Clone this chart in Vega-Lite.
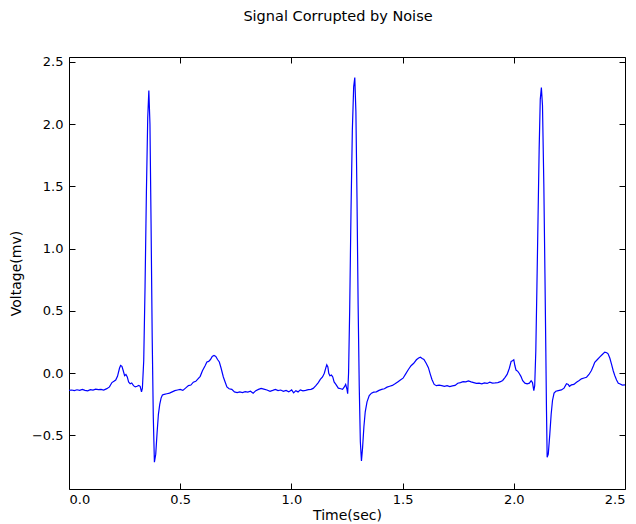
{
  "$schema": "https://vega.github.io/schema/vega-lite/v6.json",
  "autosize": {"type": "none"},
  "padding": {"left": 69, "top": 57, "right": 11, "bottom": 35},
  "width": 556,
  "height": 432,
  "background": "white",
  "title": {"text": "Signal Corrupted by Noise", "font": "DejaVu Sans", "fontSize": 14.5, "fontWeight": "normal", "color": "black", "offset": 31, "dx": -9},
  "config": {
    "view": {"stroke": "black", "strokeWidth": 1},
    "axis": {"labelFont": "DejaVu Sans", "titleFont": "DejaVu Sans", "labelFontSize": 13, "titleFontSize": 14, "titleFontWeight": "normal", "labelColor": "black", "titleColor": "black", "tickColor": "black", "domain": false, "grid": false, "tickSize": -6, "tickWidth": 1}
  },
  "data": {"values": [
    {"t":0.000,"v":-0.138},{"t":0.012,"v":-0.135},{"t":0.024,"v":-0.140},{"t":0.036,"v":-0.133},{"t":0.048,"v":-0.137},{"t":0.060,"v":-0.130},{"t":0.072,"v":-0.138},{"t":0.084,"v":-0.142},{"t":0.096,"v":-0.132},{"t":0.108,"v":-0.136},{"t":0.120,"v":-0.128},{"t":0.132,"v":-0.131},{"t":0.144,"v":-0.130},{"t":0.156,"v":-0.135},{"t":0.170,"v":-0.124},{"t":0.182,"v":-0.110},{"t":0.193,"v":-0.075},{"t":0.202,"v":-0.065},{"t":0.210,"v":-0.055},{"t":0.218,"v":-0.025},{"t":0.227,"v":0.040},{"t":0.232,"v":0.062},{"t":0.238,"v":0.055},{"t":0.244,"v":0.020},{"t":0.250,"v":-0.020},{"t":0.256,"v":-0.010},{"t":0.262,"v":-0.030},{"t":0.268,"v":-0.070},{"t":0.275,"v":-0.085},{"t":0.282,"v":-0.078},{"t":0.290,"v":-0.100},{"t":0.298,"v":-0.110},{"t":0.306,"v":-0.105},{"t":0.314,"v":-0.098},{"t":0.320,"v":-0.105},{"t":0.326,"v":-0.150},{"t":0.330,"v":-0.120},{"t":0.336,"v":0.100},{"t":0.342,"v":0.700},{"t":0.348,"v":1.450},{"t":0.354,"v":2.050},{"t":0.359,"v":2.270},{"t":0.364,"v":2.000},{"t":0.369,"v":1.200},{"t":0.374,"v":0.300},{"t":0.379,"v":-0.350},{"t":0.384,"v":-0.715},{"t":0.390,"v":-0.650},{"t":0.396,"v":-0.480},{"t":0.402,"v":-0.330},{"t":0.408,"v":-0.250},{"t":0.414,"v":-0.200},{"t":0.420,"v":-0.175},{"t":0.428,"v":-0.170},{"t":0.440,"v":-0.165},{"t":0.452,"v":-0.160},{"t":0.464,"v":-0.150},{"t":0.476,"v":-0.140},{"t":0.488,"v":-0.135},{"t":0.500,"v":-0.130},{"t":0.512,"v":-0.138},{"t":0.524,"v":-0.120},{"t":0.537,"v":-0.100},{"t":0.548,"v":-0.095},{"t":0.559,"v":-0.072},{"t":0.570,"v":-0.065},{"t":0.580,"v":-0.045},{"t":0.590,"v":-0.025},{"t":0.600,"v":0.020},{"t":0.612,"v":0.060},{"t":0.620,"v":0.090},{"t":0.628,"v":0.095},{"t":0.636,"v":0.110},{"t":0.644,"v":0.135},{"t":0.652,"v":0.142},{"t":0.660,"v":0.135},{"t":0.668,"v":0.110},{"t":0.676,"v":0.090},{"t":0.684,"v":0.040},{"t":0.694,"v":-0.030},{"t":0.702,"v":-0.070},{"t":0.710,"v":-0.110},{"t":0.720,"v":-0.125},{"t":0.732,"v":-0.130},{"t":0.744,"v":-0.150},{"t":0.756,"v":-0.155},{"t":0.768,"v":-0.150},{"t":0.780,"v":-0.155},{"t":0.792,"v":-0.148},{"t":0.804,"v":-0.152},{"t":0.816,"v":-0.145},{"t":0.828,"v":-0.160},{"t":0.840,"v":-0.140},{"t":0.852,"v":-0.130},{"t":0.864,"v":-0.122},
    {"t":0.876,"v":-0.128},{"t":0.890,"v":-0.135},{"t":0.904,"v":-0.145},{"t":0.916,"v":-0.138},{"t":0.928,"v":-0.130},{"t":0.940,"v":-0.140},{"t":0.952,"v":-0.135},{"t":0.964,"v":-0.145},{"t":0.976,"v":-0.138},{"t":0.988,"v":-0.150},{"t":1.001,"v":-0.134},{"t":1.010,"v":-0.158},{"t":1.020,"v":-0.140},{"t":1.030,"v":-0.150},{"t":1.040,"v":-0.134},{"t":1.052,"v":-0.142},{"t":1.064,"v":-0.138},{"t":1.076,"v":-0.132},{"t":1.088,"v":-0.130},{"t":1.098,"v":-0.122},{"t":1.110,"v":-0.100},{"t":1.121,"v":-0.075},{"t":1.130,"v":-0.050},{"t":1.140,"v":-0.030},{"t":1.148,"v":0.000},{"t":1.155,"v":0.045},{"t":1.159,"v":0.068},{"t":1.164,"v":0.050},{"t":1.168,"v":0.000},{"t":1.173,"v":-0.020},{"t":1.180,"v":-0.015},{"t":1.186,"v":-0.030},{"t":1.192,"v":-0.070},{"t":1.200,"v":-0.090},{"t":1.211,"v":-0.120},{"t":1.222,"v":-0.125},{"t":1.230,"v":-0.130},{"t":1.238,"v":-0.110},{"t":1.244,"v":-0.090},{"t":1.250,"v":-0.130},{"t":1.253,"v":-0.165},{"t":1.257,"v":0.000},{"t":1.262,"v":0.500},{"t":1.268,"v":1.300},{"t":1.274,"v":1.950},{"t":1.280,"v":2.300},{"t":1.285,"v":2.375},{"t":1.290,"v":2.100},{"t":1.295,"v":1.400},{"t":1.300,"v":0.550},{"t":1.305,"v":-0.100},{"t":1.310,"v":-0.550},{"t":1.315,"v":-0.705},{"t":1.320,"v":-0.600},{"t":1.326,"v":-0.430},{"t":1.332,"v":-0.310},{"t":1.340,"v":-0.230},{"t":1.350,"v":-0.180},{"t":1.360,"v":-0.160},{"t":1.370,"v":-0.152},{"t":1.382,"v":-0.150},{"t":1.394,"v":-0.138},{"t":1.406,"v":-0.130},{"t":1.418,"v":-0.125},{"t":1.430,"v":-0.112},{"t":1.442,"v":-0.105},{"t":1.454,"v":-0.098},{"t":1.466,"v":-0.085},{"t":1.478,"v":-0.070},{"t":1.490,"v":-0.055},{"t":1.502,"v":-0.040},{"t":1.514,"v":-0.005},{"t":1.526,"v":0.030},{"t":1.538,"v":0.060},{"t":1.550,"v":0.080},{"t":1.562,"v":0.108},{"t":1.572,"v":0.122},{"t":1.580,"v":0.128},{"t":1.588,"v":0.118},{"t":1.596,"v":0.110},{"t":1.606,"v":0.080},{"t":1.616,"v":0.045},{"t":1.624,"v":-0.005},{"t":1.632,"v":-0.050},{"t":1.642,"v":-0.090},{"t":1.652,"v":-0.100},{"t":1.664,"v":-0.095},{"t":1.676,"v":-0.100},{"t":1.688,"v":-0.105},
    {"t":1.700,"v":-0.100},{"t":1.712,"v":-0.108},{"t":1.724,"v":-0.102},{"t":1.736,"v":-0.098},{"t":1.748,"v":-0.080},{"t":1.760,"v":-0.075},{"t":1.772,"v":-0.068},{"t":1.784,"v":-0.070},{"t":1.796,"v":-0.062},{"t":1.808,"v":-0.070},{"t":1.820,"v":-0.075},{"t":1.832,"v":-0.082},{"t":1.844,"v":-0.080},{"t":1.856,"v":-0.085},{"t":1.868,"v":-0.078},{"t":1.880,"v":-0.082},{"t":1.892,"v":-0.072},{"t":1.904,"v":-0.080},{"t":1.916,"v":-0.078},{"t":1.928,"v":-0.075},{"t":1.940,"v":-0.068},{"t":1.950,"v":-0.058},{"t":1.960,"v":-0.035},{"t":1.970,"v":-0.010},{"t":1.980,"v":0.040},{"t":1.988,"v":0.095},{"t":1.994,"v":0.100},{"t":2.000,"v":0.108},{"t":2.005,"v":0.060},{"t":2.010,"v":0.025},{"t":2.018,"v":0.015},{"t":2.024,"v":0.000},{"t":2.032,"v":-0.025},{"t":2.040,"v":-0.060},{"t":2.050,"v":-0.080},{"t":2.060,"v":-0.085},{"t":2.070,"v":-0.080},{"t":2.078,"v":-0.060},{"t":2.084,"v":-0.075},{"t":2.090,"v":-0.140},{"t":2.094,"v":-0.100},{"t":2.099,"v":0.180},{"t":2.104,"v":0.700},{"t":2.109,"v":1.250},{"t":2.114,"v":1.800},{"t":2.119,"v":2.200},{"t":2.124,"v":2.294},{"t":2.129,"v":2.150},{"t":2.135,"v":1.520},{"t":2.140,"v":0.800},{"t":2.144,"v":0.180},{"t":2.147,"v":-0.300},{"t":2.150,"v":-0.675},{"t":2.155,"v":-0.650},{"t":2.162,"v":-0.487},{"t":2.168,"v":-0.330},{"t":2.174,"v":-0.219},{"t":2.181,"v":-0.160},{"t":2.189,"v":-0.145},{"t":2.200,"v":-0.140},{"t":2.214,"v":-0.134},{"t":2.226,"v":-0.120},{"t":2.237,"v":-0.085},{"t":2.245,"v":-0.090},{"t":2.250,"v":-0.105},{"t":2.259,"v":-0.094},{"t":2.270,"v":-0.090},{"t":2.282,"v":-0.072},{"t":2.294,"v":-0.058},{"t":2.304,"v":-0.045},{"t":2.316,"v":-0.038},{"t":2.327,"v":-0.032},{"t":2.338,"v":-0.010},{"t":2.349,"v":0.022},{"t":2.358,"v":0.060},{"t":2.364,"v":0.088},{"t":2.376,"v":0.110},{"t":2.386,"v":0.129},{"t":2.398,"v":0.150},{"t":2.409,"v":0.169},{"t":2.418,"v":0.165},{"t":2.424,"v":0.156},{"t":2.432,"v":0.120},{"t":2.439,"v":0.075},{"t":2.447,"v":0.020},{"t":2.454,"v":-0.018},{"t":2.462,"v":-0.055},{"t":2.470,"v":-0.080},{"t":2.476,"v":-0.085},{"t":2.488,"v":-0.095},{"t":2.500,"v":-0.094}
  ]},
  "layer": [
    {
      "mark": {"type": "line", "color": "#0000ff", "strokeWidth": 1.2},
      "encoding": {
        "x": {"field": "t", "type": "quantitative", "scale": {"domain": [0, 2.5], "nice": false, "zero": false},
              "axis": {"orient": "bottom", "title": "Time(sec)", "values": [0, 0.5, 1, 1.5, 2, 2.5], "format": ".1f", "labelPadding": 10, "titlePadding": 2}},
        "y": {"field": "v", "type": "quantitative", "scale": {"domain": [-0.93, 2.54], "nice": false, "zero": false},
              "axis": {"orient": "left", "title": "Voltage(mv)", "values": [-0.5, 0, 0.5, 1, 1.5, 2, 2.5], "format": ".1f", "labelPadding": 12, "titlePadding": 8}}
      }
    },
    {
      "mark": {"type": "line", "strokeOpacity": 0},
      "encoding": {
        "x": {"field": "t", "type": "quantitative", "axis": {"orient": "top", "title": null, "labels": false, "values": [0, 0.5, 1, 1.5, 2, 2.5]}},
        "y": {"field": "v", "type": "quantitative", "axis": {"orient": "right", "title": null, "labels": false, "values": [-0.5, 0, 0.5, 1, 1.5, 2, 2.5]}}
      }
    }
  ],
  "resolve": {"axis": {"x": "independent", "y": "independent"}}
}
